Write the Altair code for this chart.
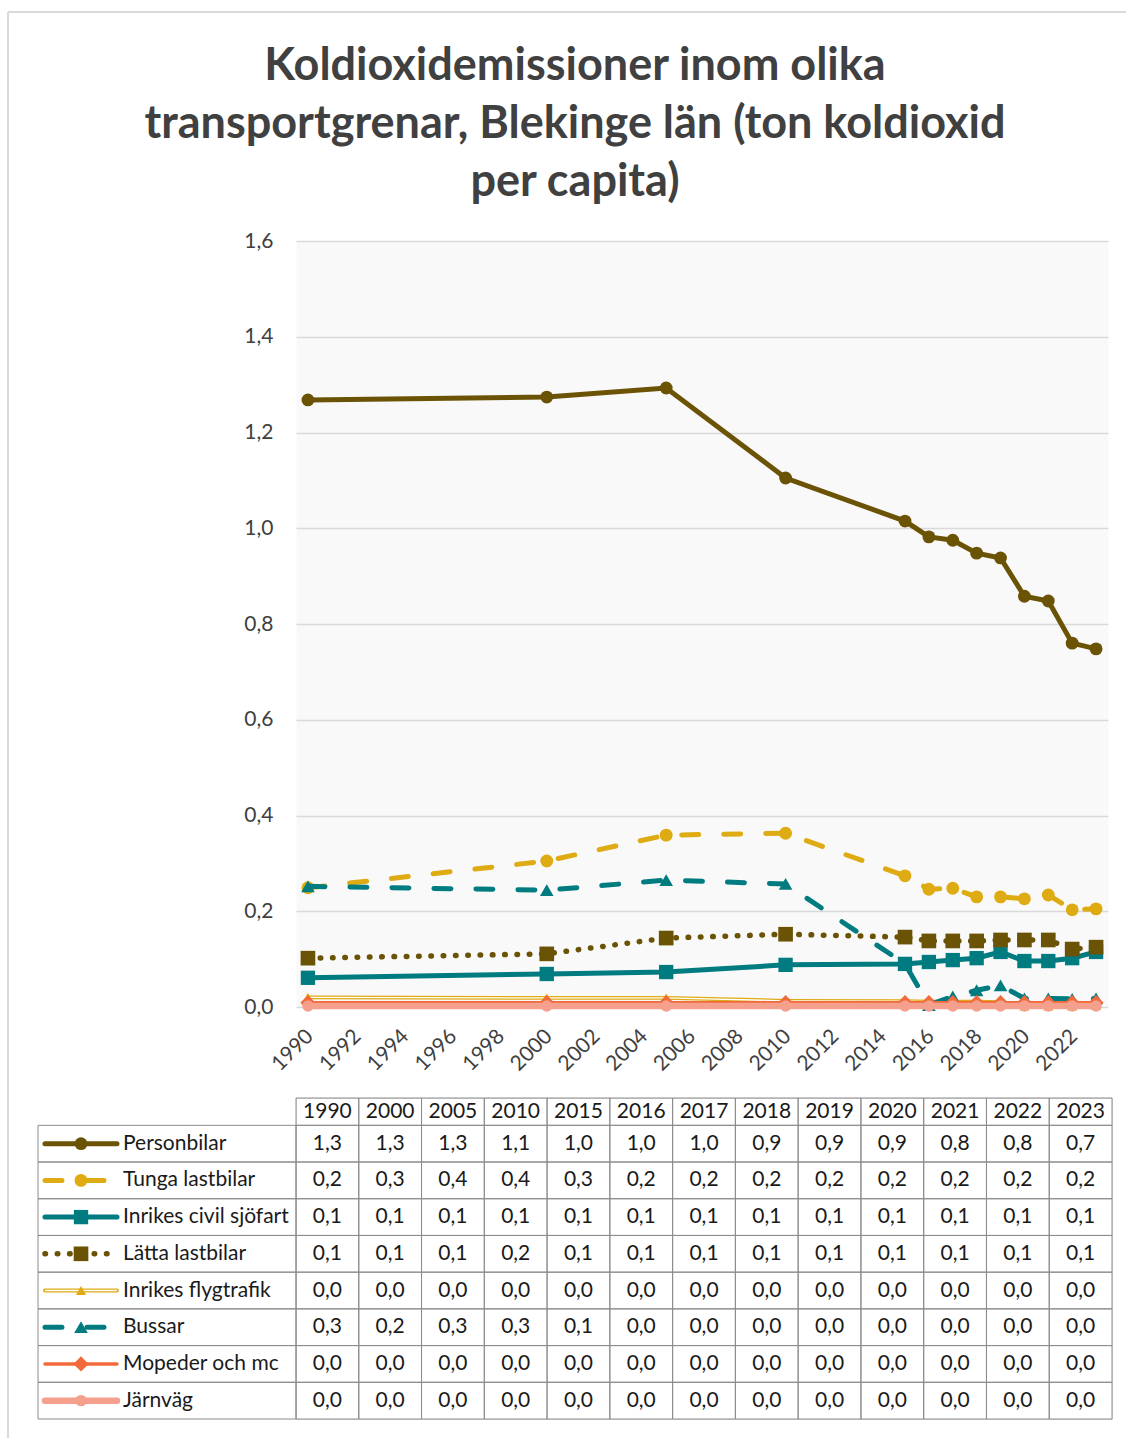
import altair as alt
import pandas as pd

# ---------------- data ----------------
years = [1990, 2000, 2005, 2010, 2015, 2016, 2017, 2018, 2019, 2020, 2021, 2022, 2023]
tick_years = [1990, 1992, 1994, 1996, 1998, 2000, 2002, 2004, 2006, 2008, 2010,
              2012, 2014, 2016, 2018, 2020, 2022]
y_ticks = [0.0, 0.2, 0.4, 0.6, 0.8, 1.0, 1.2, 1.4, 1.6]

series_names = ["Personbilar", "Tunga lastbilar", "Inrikes civil sjöfart", "Lätta lastbilar",
                "Inrikes flygtrafik", "Bussar", "Mopeder och mc", "Järnväg"]

personbilar = [1.268, 1.274, 1.293, 1.105, 1.015, 0.982, 0.975, 0.948, 0.938, 0.858, 0.848, 0.760, 0.748]
tunga_lastbilar = [0.249, 0.305, 0.359, 0.363, 0.274, 0.246, 0.248, 0.230, 0.230, 0.226, 0.234, 0.203, 0.205]
inrikes_sjofart = [0.061, 0.069, 0.073, 0.088, 0.090, 0.094, 0.098, 0.102, 0.115, 0.096, 0.096, 0.102, 0.115]
latta_lastbilar = [0.102, 0.111, 0.144, 0.152, 0.146, 0.138, 0.138, 0.138, 0.140, 0.140, 0.140, 0.121, 0.125]
inrikes_flyg = [0.020, 0.019, 0.019, 0.013, 0.012, 0.011, 0.011, 0.011, 0.010, 0.002, 0.002, 0.002, 0.003]
bussar = [0.252, 0.244, 0.265, 0.257, 0.090, 0.004, 0.022, 0.035, 0.045, 0.018, 0.018, 0.017, 0.018]
mopeder = [0.009, 0.009, 0.009, 0.009, 0.009, 0.009, 0.009, 0.009, 0.009, 0.009, 0.009, 0.009, 0.009]
jarnvag = [0.002, 0.002, 0.002, 0.002, 0.002, 0.002, 0.002, 0.002, 0.002, 0.002, 0.002, 0.002, 0.002]

series_values = [personbilar, tunga_lastbilar, inrikes_sjofart, latta_lastbilar,
                 inrikes_flyg, bussar, mopeder, jarnvag]

title_lines = ["Koldioxidemissioner inom olika",
               "transportgrenar, Blekinge län (ton koldioxid",
               "per capita)"]

# ---------------- styles ----------------
BROWN = "#6B5306"
GOLD = "#DEAB12"
TEAL = "#007B80"
ORANGE = "#F2693A"
SALMON = "#F4A08C"
FONT = "Lato"
AXIS_TEXT = "#404040"

styles = {
    "Personbilar": dict(color=BROWN, width=5, shape="circle", size=165),
    "Tunga lastbilar": dict(color=GOLD, width=5, dash=[17, 25], shape="circle", size=165),
    "Inrikes civil sjöfart": dict(color=TEAL, width=5, shape="square", size=205),
    "Lätta lastbilar": dict(color=BROWN, width=5.5, dash=[0.5, 11.8], shape="square", size=215),
    "Inrikes flygtrafik": dict(color=GOLD, width=3.8, shape="triangle-up", size=105, double=True),
    "Bussar": dict(color=TEAL, width=5, dash=[17, 25], shape="triangle-up", size=185),
    "Mopeder och mc": dict(color=ORANGE, width=3.5, shape="diamond", size=230),
    "Järnväg": dict(color=SALMON, width=6.5, shape="circle", size=130),
}


def line_kwargs(st, width=None):
    kw = dict(color=st["color"], strokeWidth=width if width else st["width"], strokeCap="round")
    if "dash" in st:
        kw["strokeDash"] = st["dash"]
    return kw


rows = []
for name, vals in zip(series_names, series_values):
    for yr, v in zip(years, vals):
        rows.append({"series": name, "year": yr, "value": v})
df = pd.DataFrame(rows)

# ---------------- line chart ----------------
PLOT_W, PLOT_H = 812, 766

X = alt.X("year:Q", title=None,
          scale=alt.Scale(domain=[1989.5, 2023.5], nice=False, zero=False),
          axis=alt.Axis(values=tick_years, format="d", labelAngle=-45, grid=False,
                        domain=False, ticks=False, labelPadding=18, labelOffset=-6, labelFont=FONT,
                        labelFontSize=21, labelColor=AXIS_TEXT, labelOverlap=False))
Y = alt.Y("value:Q", title=None,
          scale=alt.Scale(domain=[0, 1.6], nice=False, zero=False),
          axis=alt.Axis(values=y_ticks, labelExpr="replace(format(datum.value, '.1f'), '.', ',')",
                        grid=True, gridColor="#D9D9D9", gridWidth=1.6, domain=False, ticks=False,
                        labelPadding=23, labelFont=FONT, labelFontSize=21, labelColor=AXIS_TEXT))

base = alt.Chart(df).encode(x=X, y=Y)
layers = []
for name in series_names:
    st = styles[name]
    src = base.transform_filter(alt.datum.series == name)
    layers.append(src.mark_line(**line_kwargs(st)))
    if st.get("double"):
        layers.append(src.mark_line(color="#FFFFFF", strokeWidth=1.3))
    layers.append(src.mark_point(shape=st["shape"], size=st["size"], filled=True,
                                 color=st["color"], opacity=1))

one_row = pd.DataFrame({"k": [0]})
title_mark = alt.Chart(one_row).mark_text(
    text=title_lines, font=FONT, fontSize=45, fontWeight="bold", color="#404040",
    align="center", baseline="alphabetic", lineHeight=58
).encode(x=alt.value(279), y=alt.value(-161))

line_chart = alt.layer(*layers, title_mark).properties(
    width=PLOT_W, height=PLOT_H,
    view=alt.ViewBackground(fill="#F9F9F9", stroke="transparent"))

# ---------------- data table ----------------
TAB_W, TAB_H = 816, 321
HDR = 0.744           # header row height in row units
LEG = 4.11            # legend column width in column units

cells = []
for j in range(len(years)):
    cells.append({"x0": j, "x1": j + 1, "y0": -HDR, "y1": 0})
for i in range(len(series_names)):
    cells.append({"x0": -LEG, "x1": 0, "y0": i, "y1": i + 1})
    for j in range(len(years)):
        cells.append({"x0": j, "x1": j + 1, "y0": i, "y1": i + 1})
cells_df = pd.DataFrame(cells)

texts = []
for j, yr in enumerate(years):
    texts.append({"x": j + 0.5, "y": -HDR / 2, "t": str(yr)})
for i, vals in enumerate(series_values):
    for j, v in enumerate(vals):
        texts.append({"x": j + 0.5, "y": i + 0.5, "t": f"{v:.1f}".replace(".", ",")})
texts_df = pd.DataFrame(texts)

labels_df = pd.DataFrame({"x": [-2.756] * len(series_names),
                          "y": [i + 0.5 for i in range(len(series_names))],
                          "t": series_names})

TX = alt.Scale(domain=[0, 13], nice=False, zero=False)
TY = alt.Scale(domain=[-HDR, 8], nice=False, zero=False, reverse=True)

grid_layer = alt.Chart(cells_df).mark_rect(fill="transparent", stroke="#8C8C8C", strokeWidth=1).encode(
    x=alt.X("x0:Q", scale=TX, axis=None), x2="x1:Q",
    y=alt.Y("y0:Q", scale=TY, axis=None), y2="y1:Q")

text_layer = alt.Chart(texts_df).mark_text(font=FONT, fontSize=21, color="#1A1A1A",
                                           align="center", baseline="middle").encode(
    x=alt.X("x:Q", scale=TX, axis=None), y=alt.Y("y:Q", scale=TY, axis=None), text="t:N")

label_layer = alt.Chart(labels_df).mark_text(font=FONT, fontSize=21, color="#1A1A1A",
                                             align="left", baseline="middle").encode(
    x=alt.X("x:Q", scale=TX, axis=None), y=alt.Y("y:Q", scale=TY, axis=None), text="t:N")

key_rows = []
for i, name in enumerate(series_names):
    key_rows.append({"series": name, "k0": -3.999, "k1": -2.852, "km": -3.425, "y": i + 0.5})
keys_df = pd.DataFrame(key_rows)

key_layers = []
for name in series_names:
    st = styles[name]
    src = alt.Chart(keys_df).transform_filter(alt.datum.series == name)
    key_layers.append(src.mark_rule(**line_kwargs(st)).encode(
        x=alt.X("k0:Q", scale=TX, axis=None), x2="k1:Q", y=alt.Y("y:Q", scale=TY, axis=None)))
    if st.get("double"):
        key_layers.append(src.mark_rule(color="#FFFFFF", strokeWidth=1.3).encode(
            x=alt.X("k0:Q", scale=TX, axis=None), x2="k1:Q", y=alt.Y("y:Q", scale=TY, axis=None)))
    key_layers.append(src.mark_point(shape=st["shape"], size=st["size"], filled=True,
                                     color=st["color"], opacity=1).encode(
        x=alt.X("km:Q", scale=TX, axis=None), y=alt.Y("y:Q", scale=TY, axis=None)))

# outer chart frame (top and left edges; the others fall outside the picture)
frame_top = alt.Chart(one_row).mark_rule(stroke="#D9D9D9", strokeWidth=2).encode(
    x=alt.value(-288), x2=alt.value(830), y=alt.value(-1086))
frame_left = alt.Chart(one_row).mark_rule(stroke="#D9D9D9", strokeWidth=2).encode(
    x=alt.value(-288), y=alt.value(-1086), y2=alt.value(340))

table_chart = alt.layer(grid_layer, text_layer, label_layer, *key_layers,
                        frame_top, frame_left).properties(width=TAB_W, height=TAB_H)

chart = alt.vconcat(line_chart, table_chart, spacing=91, bounds="flush").properties(
    padding={"left": 6, "top": 10, "right": 0, "bottom": 0}
).configure_view(stroke="transparent").configure(font=FONT)

chart.save("out.html", embed_options={"renderer": "svg", "actions": False})
